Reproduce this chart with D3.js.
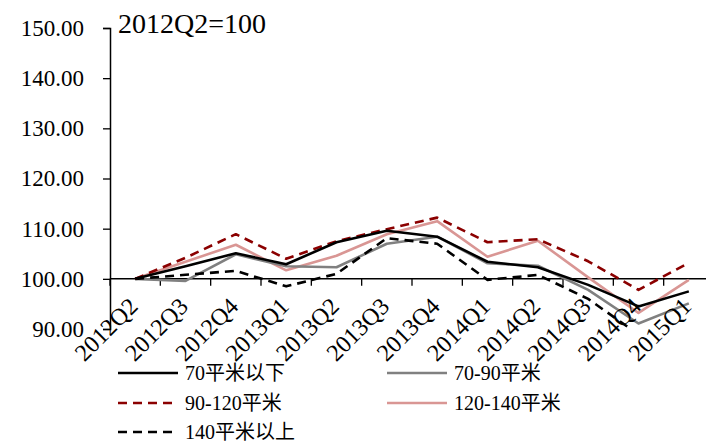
<!DOCTYPE html>
<html>
<head>
<meta charset="utf-8">
<script src="https://cdn.jsdelivr.net/npm/d3@7"></script>
<style>
  html, body { margin: 0; padding: 0; background: #fff; }
  svg { display: block; }
  text { font-family: "Liberation Serif", "Times New Roman", "Noto Sans CJK SC", serif; fill: #000; }
</style>
</head>
<body>
<svg id="chart" width="706" height="443"></svg>
<script>
// Quarterly price index by floor area, 2012Q2 = 100
const quarters = ["2012Q2", "2012Q3", "2012Q4", "2013Q1", "2013Q2", "2013Q3",
                  "2013Q4", "2014Q1", "2014Q2", "2014Q3", "2014Q4", "2015Q1"];
const under70      = [100, 102.5, 105.1, 102.9, 107.3, 109.6, 108.4, 103.4, 102.3, 98.8, 94.5, 97.5];
const from70to90   = [100, 99.6, 104.9, 102.5, 102.3, 107.0, 108.4, 103.1, 102.6, 97.8, 91.1, 95.1];
const from90to120  = [100, 104.2, 108.9, 104.0, 107.5, 109.9, 112.2, 107.3, 107.9, 103.5, 97.8, 103.2];
const from120to140 = [100, 103.4, 106.8, 101.7, 104.6, 108.9, 111.5, 104.4, 107.6, 100.3, 93.2, 99.8];
const over140      = [100, 100.8, 101.6, 98.5, 101.0, 108.1, 107.0, 99.8, 100.8, 96.0, 88.9, 89.3];
const yTicks = [90, 100, 110, 120, 130, 140, 150];
const seriesNames = ["70平米以下", "70-90平米", "90-120平米", "120-140平米", "140平米以上"];

const series = [
  { name: seriesNames[0], values: under70,      color: "#000000", dash: null },
  { name: seriesNames[1], values: from70to90,   color: "#808080", dash: null },
  { name: seriesNames[2], values: from90to120,  color: "#8b0000", dash: "9,6" },
  { name: seriesNames[3], values: from120to140, color: "#d99694", dash: null },
  { name: seriesNames[4], values: over140,      color: "#000000", dash: "9,6" }
];
// drawing order: lighter lines underneath
const drawOrder = [3, 1, 4, 2, 0];

const svg = d3.select("#chart");

const plotLeft = 110, plotRight = 714, plotTop = 28, plotBottom = 329;
const x = d3.scaleBand().domain(quarters).range([plotLeft, plotRight]).paddingInner(0).paddingOuter(0);
const y = d3.scaleLinear().domain([90, 150]).range([plotBottom, plotTop]);
const cx = d => x(d) + x.bandwidth() / 2;

svg.append("defs").append("clipPath").attr("id", "plotClip")
  .append("rect").attr("x", plotLeft).attr("y", plotTop - 2)
  .attr("width", plotRight - plotLeft).attr("height", plotBottom - plotTop + 2);

// y axis
const yAxis = d3.axisLeft(y).tickValues(yTicks).tickSize(7).tickPadding(19)
  .tickFormat(d3.format(".2f"));
const gy = svg.append("g").attr("transform", `translate(${plotLeft},0)`).call(yAxis);
gy.select(".domain").attr("stroke", "#000").attr("stroke-width", 1.5);
gy.selectAll(".tick line").attr("stroke", "#000").attr("stroke-width", 1.3);
gy.selectAll(".tick text").attr("font-size", 23).attr("font-family", "Liberation Serif").attr("fill", "#000");

// x axis crossing at 100
const x0 = y(100);
const gx = svg.append("g").attr("transform", `translate(0,${x0})`);
gx.append("line").attr("x1", plotLeft).attr("x2", plotRight).attr("y1", 0).attr("y2", 0)
  .attr("stroke", "#000").attr("stroke-width", 1.5);
const boundaries = quarters.map(q => x(q)).concat([plotRight]);
gx.selectAll("line.tk").data(boundaries).join("line").attr("class", "tk")
  .attr("x1", d => d).attr("x2", d => d).attr("y1", 0).attr("y2", 7)
  .attr("stroke", "#000").attr("stroke-width", 1.3);

// lines
const line = d3.line().x((d, i) => cx(quarters[i])).y(d => y(d));
const plot = svg.append("g").attr("clip-path", "url(#plotClip)");
drawOrder.forEach(k => {
  const s = series[k];
  plot.append("path").datum(s.values)
    .attr("d", line).attr("fill", "none")
    .attr("stroke", s.color).attr("stroke-width", 2.6)
    .attr("stroke-dasharray", s.dash)
    .attr("stroke-linejoin", "round");
});

// category labels, rotated
svg.append("g").selectAll("text").data(quarters).join("text")
  .attr("transform", d => `translate(${cx(d) + 4},${x0 + 29}) rotate(-45)`)
  .attr("text-anchor", "end").attr("font-size", 24)
  .text(d => d);

// base period note
svg.append("text").attr("x", 118).attr("y", 33).attr("font-size", 28).text("2012Q2=100");

// legend
const legendPos = [
  { x: 118, y: 373 }, { x: 387, y: 373 },
  { x: 118, y: 403 }, { x: 387, y: 403 },
  { x: 118, y: 432 }
];
const lg = svg.append("g").selectAll("g").data(series).join("g")
  .attr("transform", (d, i) => `translate(${legendPos[i].x},${legendPos[i].y})`);
lg.append("line").attr("x1", 0).attr("x2", 60).attr("y1", 0).attr("y2", 0)
  .attr("stroke", d => d.color).attr("stroke-width", 2.6)
  .attr("stroke-dasharray", d => d.dash);
lg.append("text").attr("x", 67).attr("y", 7).attr("font-size", 20).text(d => d.name);
</script>
</body>
</html>
